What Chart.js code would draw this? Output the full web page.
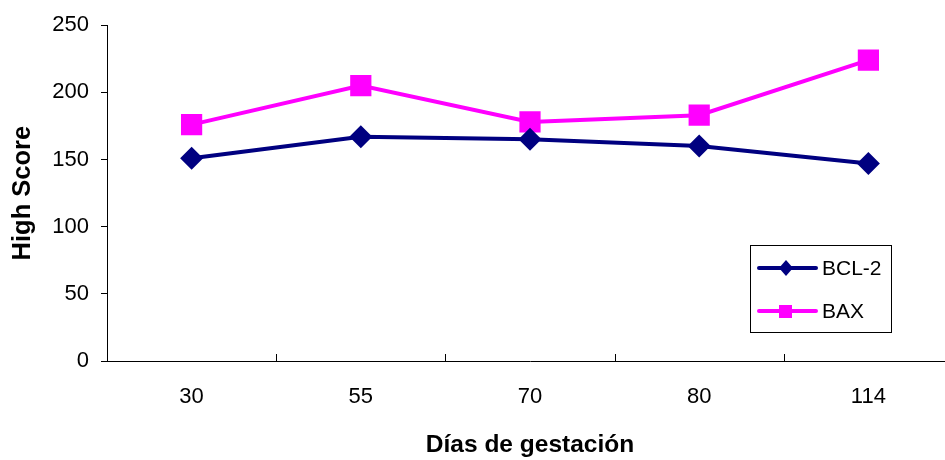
<!DOCTYPE html>
<html>
<head>
<meta charset="utf-8">
<script src="https://cdn.jsdelivr.net/npm/chart.js@4"></script>
<style>
    html, body { margin: 0; padding: 0; background: #fff; overflow: hidden; }
    canvas { display: block; }
</style>
</head>
<body>
<canvas id="scoreChart" width="953" height="460"></canvas>
<script>
// datos
const dias = ['30', '55', '70', '80', '114'];
const bcl2 = [151, 167, 165, 160, 147];
const bax = [176, 205, 178, 183, 224];
const yTicks = [0, 50, 100, 150, 200, 250];

const FONT = "'Liberation Sans', Arial, sans-serif";

// marcas del eje x hacia dentro, entre categorías
const xTickMarks = {
    id: 'xTickMarks',
    afterDraw: function(chart) {
        const ctx = chart.ctx;
        const xs = chart.scales.x;
        const bottom = chart.chartArea.bottom;
        ctx.save();
        ctx.strokeStyle = '#000';
        ctx.lineWidth = 1;
        for (let i = 1; i < dias.length; i++) {
            const x = Math.round((xs.getPixelForValue(i - 1) + xs.getPixelForValue(i)) / 2) + 0.5;
            ctx.beginPath();
            ctx.moveTo(x, bottom);
            ctx.lineTo(x, bottom - 7);
            ctx.stroke();
        }
        ctx.restore();
    }
};

// leyenda dentro del área del gráfico
const boxLegend = {
    id: 'boxLegend',
    afterDraw: function(chart) {
        const ctx = chart.ctx;
        const left = 750, top = 245, w = 141, h = 87;
        ctx.save();
        ctx.fillStyle = '#fff';
        ctx.fillRect(left, top, w, h);
        ctx.strokeStyle = '#000';
        ctx.lineWidth = 1;
        ctx.strokeRect(left + 0.5, top + 0.5, w, h);
        chart.data.datasets.forEach(function(ds, i) {
            const y = top + 23 + i * 43;
            ctx.strokeStyle = ds.borderColor;
            ctx.lineWidth = 4;
            ctx.lineCap = 'round';
            ctx.beginPath();
            ctx.moveTo(759, y);
            ctx.lineTo(816, y);
            ctx.stroke();
            ctx.fillStyle = ds.borderColor;
            if (ds.pointStyle === 'rectRot') {
                ctx.beginPath();
                ctx.moveTo(786, y - 8);
                ctx.lineTo(793, y);
                ctx.lineTo(786, y + 8);
                ctx.lineTo(779, y);
                ctx.closePath();
                ctx.fill();
            } else {
                ctx.fillRect(779, y - 6, 13, 13);
            }
            ctx.fillStyle = '#000';
            ctx.font = '21px ' + FONT;
            ctx.textBaseline = 'middle';
            ctx.fillText(ds.label, 822, y + 1);
        });
        ctx.restore();
    }
};

const ctx = document.getElementById('scoreChart').getContext('2d');
new Chart(ctx, {
    type: 'line',
    data: {
        labels: dias,
        datasets: [
            {
                label: 'BCL-2',
                data: bcl2,
                borderColor: '#000080',
                backgroundColor: '#000080',
                borderWidth: 4,
                pointStyle: 'rectRot',
                pointRadius: 11.5,
                pointHoverRadius: 11.5,
                pointBorderWidth: 0,
                tension: 0
            },
            {
                label: 'BAX',
                data: bax,
                borderColor: '#ff00ff',
                backgroundColor: '#ff00ff',
                borderWidth: 4,
                pointStyle: 'rect',
                pointRadius: 15,
                pointHoverRadius: 15,
                pointBorderWidth: 0,
                tension: 0
            }
        ]
    },
    options: {
        responsive: false,
        maintainAspectRatio: false,
        animation: false,
        layout: {
            autoPadding: false,
            padding: { top: 24, left: 0, right: 0, bottom: 0 }
        },
        plugins: {
            legend: { display: false },
            tooltip: { enabled: false }
        },
        scales: {
            x: {
                offset: true,
                grid: { display: false },
                border: { display: true, color: '#000', width: 1 },
                ticks: {
                    color: '#000',
                    font: { family: FONT, size: 22 },
                    padding: 15
                },
                title: {
                    display: true,
                    text: 'Días de gestación',
                    color: '#000',
                    font: { family: FONT, size: 24.5, weight: 'bold' },
                    padding: { top: 10, bottom: 0 }
                },
                afterFit: function(scale) {
                    scale.height = 99;
                    scale.paddingLeft = 0;
                    scale.paddingRight = 0;
                }
            },
            y: {
                min: 0,
                max: 250,
                afterBuildTicks: function(scale) {
                    scale.ticks = yTicks.map(function(v) { return { value: v }; });
                },
                grid: {
                    drawOnChartArea: false,
                    drawTicks: true,
                    tickLength: 6,
                    color: '#000'
                },
                border: { display: true, color: '#000', width: 1 },
                ticks: {
                    color: '#000',
                    font: { family: FONT, size: 22 },
                    padding: 12
                },
                title: {
                    display: true,
                    text: 'High Score',
                    color: '#000',
                    font: { family: FONT, size: 25.5, weight: 'bold' },
                    padding: { top: 8, bottom: 10 }
                },
                afterFit: function(scale) { scale.width = 107; }
            }
        }
    },
    plugins: [xTickMarks, boxLegend]
});
</script>
</body>
</html>
